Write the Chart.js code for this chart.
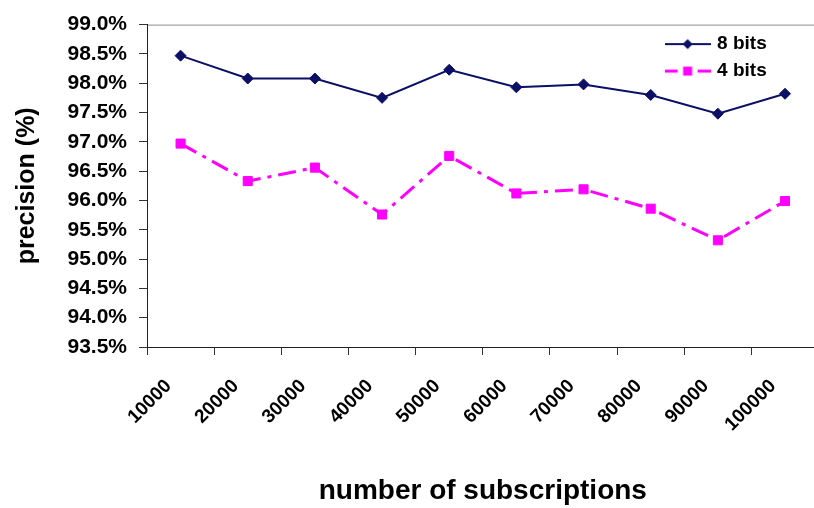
<!DOCTYPE html>
<html lang="en">
<head>
    <meta charset="UTF-8">
    <title>Precision vs subscriptions</title>
    <script src="https://cdn.jsdelivr.net/npm/chart.js"></script>
    <style>
        html, body { margin: 0; padding: 0; background: #fff; overflow: hidden; }
        .chart-box { position: relative; width: 826px; height: 508px; }
    </style>
</head>
<body>
    <div class="chart-box">
        <canvas id="precisionChart"></canvas>
    </div>

    <script>
        // values
        const subscriptions = ["10000", "20000", "30000", "40000", "50000", "60000", "70000", "80000", "90000", "100000"];
        const bits8 = [98.47, 98.08, 98.08, 97.75, 98.23, 97.93, 97.98, 97.80, 97.48, 97.82];
        const bits4 = [96.97, 96.33, 96.56, 95.76, 96.76, 96.12, 96.19, 95.86, 95.32, 95.99];
        const yMin = 93.5, yMax = 99.0, yStep = 0.5;

        const NAVY = "#0b0f66";
        const MAGENTA = "#ff00ff";
        const FONT = "'Liberation Sans', Arial, sans-serif";

        // little legend samples: line with marker in the middle (like Excel)
        function legendIcon(kind) {
            const c = document.createElement("canvas");
            c.width = 46; c.height = 14;
            const g = c.getContext("2d");
            const cy = 7;
            if (kind === "diamond") {
                g.strokeStyle = NAVY; g.lineWidth = 2;
                g.beginPath(); g.moveTo(0, cy); g.lineTo(46, cy); g.stroke();
                g.fillStyle = NAVY;
                g.beginPath(); g.moveTo(23, cy - 5); g.lineTo(28, cy); g.lineTo(23, cy + 5); g.lineTo(18, cy); g.closePath(); g.fill();
            } else {
                g.strokeStyle = MAGENTA; g.lineWidth = 3;
                g.beginPath(); g.moveTo(0, cy); g.lineTo(13, cy); g.moveTo(33, cy); g.lineTo(46, cy); g.stroke();
                g.fillStyle = MAGENTA;
                g.fillRect(18.5, cy - 4.5, 9, 9);
            }
            return c;
        }
        const legendIcons = [legendIcon("diamond"), legendIcon("square")];

        // Excel style grey frame round the plot area
        const plotFrame = {
            id: "plotFrame",
            beforeDraw(chart) {
                const a = chart.chartArea, ctx = chart.ctx;
                ctx.save();
                ctx.strokeStyle = "#8c8c8c";
                ctx.lineWidth = 1;
                ctx.strokeRect(a.left + 0.5, a.top + 0.5, a.right - a.left, a.bottom - a.top);
                ctx.restore();
            }
        };

        // move the legend into the top right corner of the plot
        const legendSpot = {
            id: "legendSpot",
            afterLayout(chart) {
                const lg = chart.legend, a = chart.chartArea;
                if (!lg) return;
                lg.left = a.right - 159;
                lg.right = lg.left + lg.width;
                lg.top = a.top + 2;
                lg.bottom = lg.top + lg.height;
            }
        };

        const ctx = document.getElementById("precisionChart").getContext("2d");

        const precisionChart = new Chart(ctx, {
            type: "line",
            data: {
                labels: subscriptions,
                datasets: [
                    {
                        label: "8 bits",
                        data: bits8,
                        borderColor: NAVY,
                        backgroundColor: NAVY,
                        borderWidth: 2,
                        pointStyle: "rectRot",
                        pointRadius: 5.5,
                        pointBorderWidth: 1,
                        tension: 0
                    },
                    {
                        label: "4 bits",
                        data: bits4,
                        borderColor: MAGENTA,
                        backgroundColor: MAGENTA,
                        borderWidth: 3,
                        borderDash: [18, 7, 4, 7],
                        pointStyle: "rect",
                        pointRadius: 6.4,
                        pointBorderWidth: 1,
                        tension: 0
                    }
                ]
            },
            options: {
                responsive: true,
                maintainAspectRatio: false,
                animation: false,
                layout: { padding: { top: 17, left: 0, right: 0, bottom: 0 } },
                plugins: {
                    tooltip: { enabled: false },
                    legend: {
                        position: "chartArea",
                        align: "start",
                        labels: {
                            color: "#000",
                            font: { family: FONT, size: 19, weight: "bold" },
                            usePointStyle: true,
                            pointStyleWidth: 40,
                            padding: 8,
                            generateLabels: (chart) =>
                                Chart.defaults.plugins.legend.labels.generateLabels(chart)
                                    .map((item, i) => ({ ...item, pointStyle: legendIcons[i] }))
                        }
                    }
                },
                scales: {
                    x: {
                        offset: true,
                        afterFit: (scale) => { scale.height = 161; },
                        grid: {
                            offset: true,
                            drawOnChartArea: false,
                            drawTicks: true,
                            tickLength: 8,
                            tickColor: "#333"
                        },
                        border: { display: true, color: "#222", width: 1 },
                        ticks: {
                            color: "#000",
                            font: { family: FONT, size: 19, weight: "bold" },
                            minRotation: 45,
                            maxRotation: 45,
                            autoSkip: false,
                            padding: 20,
                            labelOffset: -12
                        },
                        title: {
                            display: true,
                            text: "number of subscriptions",
                            color: "#000",
                            font: { family: FONT, size: 28, weight: "bold" },
                            padding: { top: 0, bottom: 0 }
                        }
                    },
                    y: {
                        min: yMin,
                        max: yMax,
                        afterFit: (scale) => { scale.width = 147; },
                        grid: {
                            drawOnChartArea: false,
                            drawTicks: true,
                            tickLength: 8,
                            tickColor: "#333"
                        },
                        border: { display: true, color: "#222", width: 1 },
                        ticks: {
                            stepSize: yStep,
                            padding: 12,
                            color: "#000",
                            font: { family: FONT, size: 21, weight: "bold" },
                            callback: (v) => v.toFixed(1) + "%"
                        },
                        title: {
                            display: true,
                            text: "precision (%)",
                            color: "#000",
                            font: { family: FONT, size: 25, weight: "bold" },
                            padding: { top: 12, bottom: 0 }
                        }
                    }
                }
            },
            plugins: [plotFrame, legendSpot]
        });
    </script>
</body>
</html>
